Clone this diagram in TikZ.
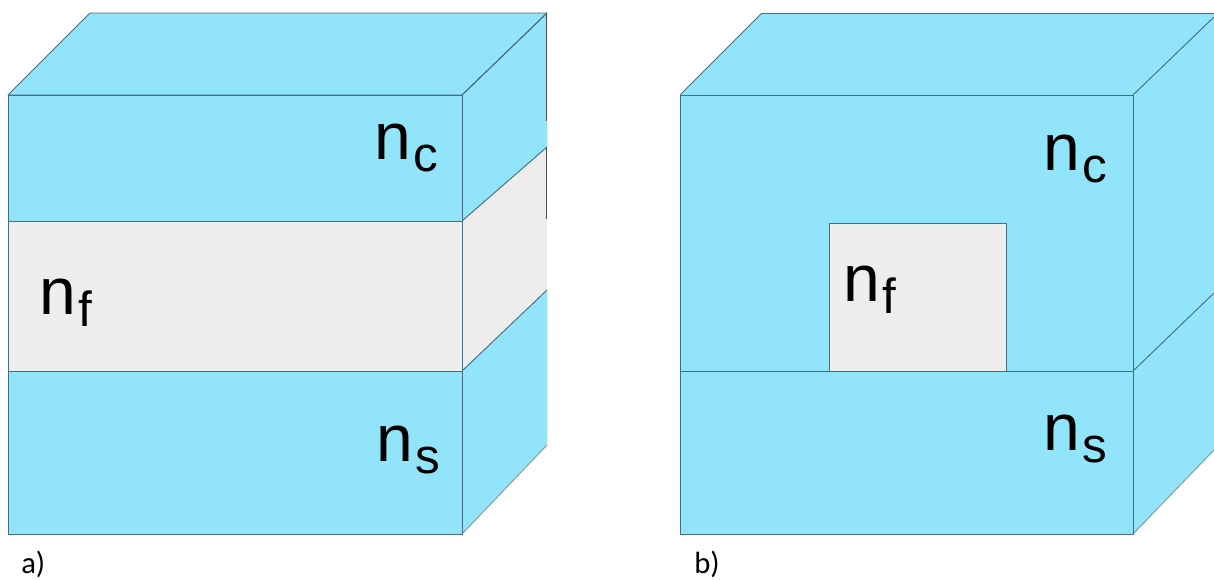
\documentclass[tikz,border=0pt]{standalone}
\usepackage{fontspec}
\setmainfont{Liberation Sans}
\newfontfamily\capfont{Carlito}
\definecolor{cladblue}{RGB}{146,228,250}
\definecolor{coregray}{RGB}{237,237,237}
\definecolor{edgeline}{RGB}{70,110,130}
\newcommand{\idx}[2]{\fontsize{49.5}{50}\selectfont #1\raisebox{-9pt}{\kern1.5pt\fontsize{37}{37}\selectfont #2}}
\tikzset{
  clad/.style={fill=cladblue,draw=edgeline,line width=0.7pt,line join=round},
  core/.style={fill=coregray,draw=edgeline,line width=0.7pt,line join=round},
  rim/.style={draw=edgeline,line width=0.7pt},
  idxlabel/.style={anchor=base west,inner sep=0pt,text=black},
  caplabel/.style={anchor=base west,inner sep=0pt,font=\capfont\fontsize{23}{23}\selectfont,text=black}
}
\begin{document}
\begin{tikzpicture}[x=0.75pt,y=-0.75pt]
\useasboundingbox (0,0) rectangle (1214,579);
% --- a) ---
\fill[cladblue] (462,95) -- (547,13) -- (547,147) -- (462,221) -- cycle;
\fill[coregray] (462,221) -- (547,147) -- (547,290) -- (462,371) -- cycle;
\fill[cladblue] (462,371) -- (547,290) -- (547,445) -- (462,534) -- cycle;
\draw[clad] (8,95) -- (90,13) -- (547,13) -- (462,95) -- cycle;
\draw[rim] (462,95) -- (547,13);
\draw[rim] (462,221) -- (547,147);
\draw[rim] (462,371) -- (547,290);
\draw[rim,draw=edgeline!70] (462,534) -- (547,445);
\draw[draw=black!70,line width=0.5pt] (546.7,13) -- (546.7,121);
\draw[draw=black!70,line width=0.5pt] (546.7,147) -- (546.7,219);
\draw[clad] (8,95) rectangle (462,221);
\draw[core] (8,221) rectangle (462,371);
\draw[clad] (8,371) rectangle (462,534);
\node[idxlabel] (ncA) at (374.6,159) {\idx{n}{c}};
\node[idxlabel] (nfA) at (39.6,314) {\idx{n}{f}};
\node[idxlabel] (nsA) at (376.5,461) {\idx{n}{s}};
\node[caplabel] (capA) at (21,573) {a)};
% --- b) ---
\fill[cladblue] (1133,95) -- (1214,17) -- (1214,450) -- (1133,534) -- cycle;
\fill[cladblue] (680,95) -- (762,13) -- (1214,13) -- (1214,17) -- (1133,95) -- cycle;
\draw[rim] (762,13) -- (1214,13);
\draw[rim] (680,95) -- (762,13);
\draw[rim] (1133,95) -- (1214,17);
\draw[rim] (1133,371) -- (1214,293);
\draw[rim,draw=edgeline!70] (1133,534) -- (1214,450);
\draw[clad] (680,95) rectangle (1133,371);
\draw[clad] (680,371) rectangle (1133,534);
\draw[core] (829,223) rectangle (1006,371);
\node[idxlabel] (ncB) at (1043.6,170) {\idx{n}{c}};
\node[idxlabel] (nfB) at (843.6,301) {\idx{n}{f}};
\node[idxlabel] (nsB) at (1043.6,450) {\idx{n}{s}};
\node[caplabel] (capB) at (694,573) {b)};
\end{tikzpicture}
\end{document}
